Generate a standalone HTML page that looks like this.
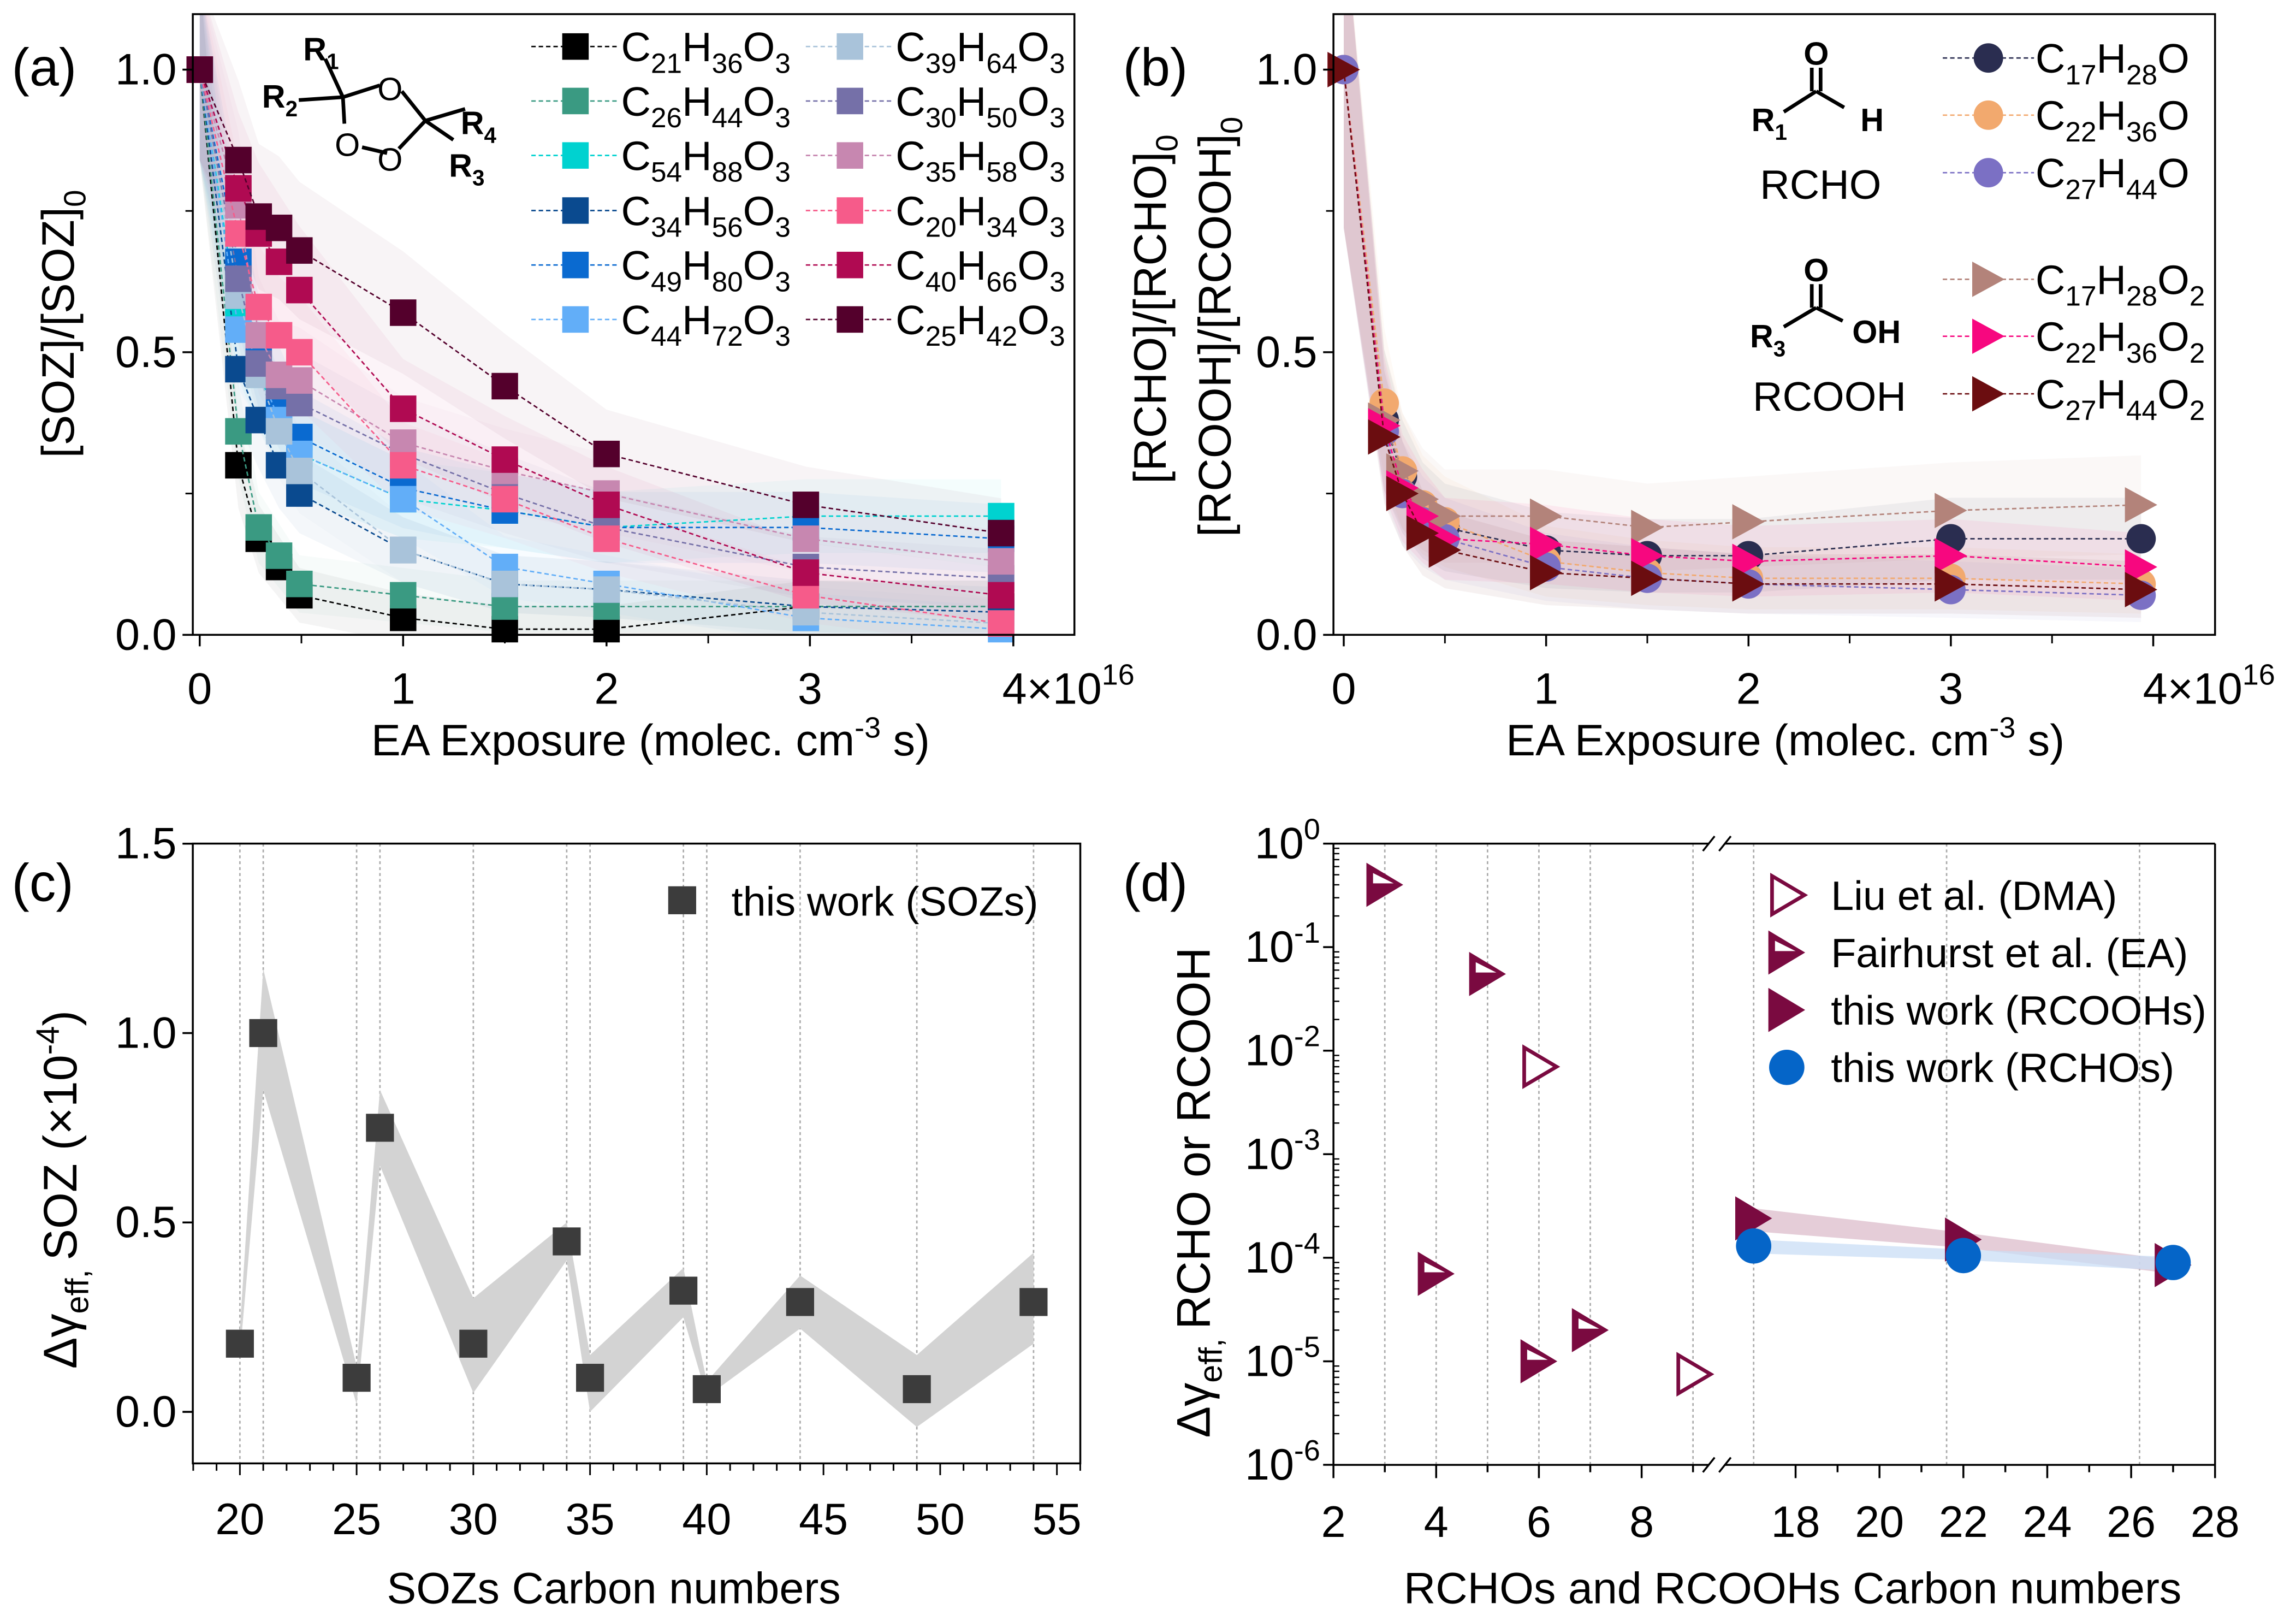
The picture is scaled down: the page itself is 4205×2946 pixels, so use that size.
<!DOCTYPE html>
<html><head><meta charset="utf-8"><style>
html,body{margin:0;padding:0;background:#fff;}
svg{display:block;}
text{font-family:"Liberation Sans Narrow","Liberation Sans",sans-serif;fill:#000;}
.reg{font-family:"Liberation Sans",sans-serif;}
</style></head><body>
<svg id="fig" xmlns="http://www.w3.org/2000/svg" width="4205" height="2946" viewBox="0 0 1560 1092.9" preserveAspectRatio="none">
<rect x="0" y="0" width="1560" height="1093" fill="#fff"/>
<defs>
<clipPath id="clipA"><rect x="131" y="10" width="599" height="421"/></clipPath>
<clipPath id="clipB"><rect x="906" y="10" width="599" height="421"/></clipPath>
<clipPath id="clipC"><rect x="131" y="573" width="603" height="421"/></clipPath>
</defs>
<g id="gA"></g>
<g id="gB"></g>
<g id="gC"></g>
<g id="gD"></g>
</svg>
<script>
// ---------- Panel (a) data ----------
const exposureA = [0,0.19,0.29,0.39,0.49,1,1.5,2,2.98,3.94];
const sozNames = ["C21H36O3","C26H44O3","C54H88O3","C34H56O3","C49H80O3","C44H72O3","C39H64O3","C30H50O3","C35H58O3","C20H34O3","C40H66O3","C25H42O3"];
const sozColors = ["#000000","#3a9a82","#00d2d0","#0a4a8f","#0a6ad0","#62aef8","#a9c3da","#7570a8","#c787b0","#f65b8a","#b00a52","#54002c"];
const sozC21 = [1,0.30,0.17,0.12,0.07,0.03,0.01,0.01,0.05,0.05];
const sozC26 = [1,0.36,0.19,0.14,0.09,0.07,0.05,0.05,0.05,0.05];
const sozC54 = [1,0.56,0.46,0.38,0.32,0.24,0.22,0.19,0.21,0.21];
const sozC34 = [1,0.47,0.38,0.30,0.25,0.15,0.09,0.08,0.05,0.04];
const sozC49 = [1,0.66,0.50,0.42,0.35,0.26,0.22,0.19,0.19,0.17];
const sozC44 = [1,0.54,0.47,0.38,0.32,0.24,0.12,0.09,0.03,0.01];
const sozC39 = [1,0.60,0.46,0.36,0.29,0.15,0.09,0.08,0.04,0.02];
const sozC30 = [1,0.63,0.48,0.44,0.41,0.32,0.25,0.19,0.12,0.10];
const sozC35 = [1,0.76,0.53,0.46,0.45,0.34,0.29,0.25,0.17,0.13];
const sozC20 = [1,0.71,0.58,0.53,0.50,0.30,0.24,0.17,0.07,0.02];
const sozC40 = [1,0.79,0.71,0.66,0.61,0.40,0.31,0.23,0.11,0.07];
const sozC25 = [1,0.84,0.74,0.72,0.68,0.57,0.44,0.32,0.23,0.18];
// ---------- Panel (b) data ----------
const exposureB = [0,0.2,0.29,0.39,0.5,1,1.5,2,3,3.94];
const rchoC17 = [1,0.38,0.28,0.22,0.19,0.15,0.14,0.14,0.17,0.17];
const rchoC22 = [1,0.41,0.29,0.23,0.20,0.13,0.11,0.10,0.10,0.09];
const rchoC27 = [1,0.36,0.25,0.20,0.17,0.12,0.10,0.09,0.08,0.07];
const rcoohC17 = [1,0.38,0.29,0.24,0.21,0.21,0.19,0.20,0.22,0.23];
const rcoohC22 = [1,0.37,0.26,0.21,0.17,0.16,0.14,0.13,0.14,0.12];
const rcoohC27 = [1,0.35,0.25,0.18,0.15,0.11,0.10,0.09,0.09,0.08];
// ---------- Panel (c) data ----------
const sozCarbon = [20,21,25,26,30,34,35,39,40,44,49,54];
const sozGamma = [0.18,1.0,0.09,0.75,0.18,0.45,0.09,0.32,0.06,0.29,0.06,0.29];
const sozUpper = [0.22,1.17,0.12,0.85,0.30,0.50,0.15,0.38,0.08,0.36,0.15,0.42];
const sozLower = [0.15,0.85,0.02,0.65,0.05,0.40,0.0,0.25,0.04,0.22,-0.04,0.18];
const cTicks = [20,25,30,35,40,45,50,55];
const cYTicks = ["0.0","0.5","1.0","1.5"];
// ---------- Panel (d) data ----------
const liuC = [6,9];
const liuG = [7e-3,7.5e-6];
const fairC = [3,5,4,6,7];
const fairG = [0.4,0.055,7e-5,1e-5,2e-5];
const coohC = [17,22,27];
const coohG = [2.4e-4,1.5e-4,8.5e-5];
const coohUp = [3e-4,1.75e-4,9.5e-5];
const coohLo = [1.8e-4,1.25e-4,7e-5];
const choC = [17,22,27];
const choG = [1.3e-4,1.05e-4,9e-5];
const choUp = [1.5e-4,1.2e-4,1.02e-4];
const choLo = [1.1e-4,0.95e-4,7.5e-5];
const dLeftTicks = [2,4,6,8];
const dRightTicks = [18,20,22,24,26,28];
const dExps = [0,-1,-2,-3,-4,-5,-6];

const NS="http://www.w3.org/2000/svg";
function mk(tag,attrs,parent){const e=document.createElementNS(NS,tag);for(const k in attrs)e.setAttribute(k,attrs[k]);parent.appendChild(e);return e;}
function txt(parent,x,y,s,size,anchor,cls){const t=mk('text',{x:x,y:y,'font-size':size,'text-anchor':anchor||'start'},parent);if(cls)t.setAttribute('class',cls);t.textContent=s;return t;}
function span(t,s,opt){const sp=document.createElementNS(NS,'tspan');for(const k in opt)sp.setAttribute(k,opt[k]);sp.textContent=s;t.appendChild(sp);return sp;}
function formula(parent,x,y,f,size){const t=mk('text',{x:x,y:y,'font-size':size},parent);const re=/([A-Z][a-z]?)(\d*)/g;let m;let down=false;
 while((m=re.exec(f))){span(t,m[1],{dy:down?-size*0.28:0});down=false;if(m[2]){span(t,m[2],{'font-size':size*0.68,dy:size*0.28});down=true;}}return t;}

const gA=document.getElementById('gA'),gB=document.getElementById('gB'),gC=document.getElementById('gC'),gD=document.getElementById('gD');
// ========== Panel A ==========
const xa=v=>135.7+v*138.2, ya=v=>431.2-v*383.9;
const sozSeries=[sozC21,sozC26,sozC54,sozC34,sozC49,sozC44,sozC39,sozC30,sozC35,sozC20,sozC40,sozC25];
const bandsA=mk('g',{'clip-path':'url(#clipA)'},gA);


sozSeries.forEach((s,i)=>{let up=[],lo=[];s.forEach((v,j)=>{const e=0.04+0.12*v;up.push(xa(exposureA[j])+','+ya(v+e));lo.unshift(xa(exposureA[j])+','+ya(v-e));});
 const p=mk('polygon',{points:up.concat(lo).join(' '),fill:sozColors[i],'fill-opacity':0.045},bandsA);
 
 });
sozSeries.forEach((s,i)=>{const g=mk('g',{},gA);
 
 
 mk('polyline',{points:s.map((v,j)=>xa(exposureA[j])+','+ya(v)).join(' '),fill:'none',stroke:sozColors[i],'stroke-width':1,'stroke-dasharray':'3,2'},g);
 s.forEach((v,j)=>{const r=mk('rect',{x:xa(exposureA[j])-9,y:ya(v)-9,width:18,height:18,fill:sozColors[i]},g);
  
  });});
// frame & axes
const frA=mk('rect',{x:131,y:9.6,width:599,height:421.6,fill:'none',stroke:'#000','stroke-width':1.3},gA);


[0,1,2,3,4].forEach(v=>{mk('line',{x1:xa(v),x2:xa(v),y1:431,y2:439,stroke:'#000','stroke-width':1.3},gA);
 const t=txt(gA,xa(v),478,v===4?'':String(v),30,'middle');
 
 });
[0.5,1.5,2.5,3.5].forEach(v=>mk('line',{x1:xa(v),x2:xa(v),y1:431,y2:437,stroke:'#000','stroke-width':1.1},gA));
{const t=mk('text',{x:681,y:478,'font-size':30},gA);span(t,'4×10',{});span(t,'16',{'font-size':20,dy:-13});
 
 }
[["0.0",0],["0.5",0.5],["1.0",1]].forEach(([s,v])=>{mk('line',{x1:124,x2:131,y1:ya(v),y2:ya(v),stroke:'#000','stroke-width':1.3},gA);
 const t=txt(gA,120,ya(v)+10,s,30,'end');
 
 });
[0.25,0.75].forEach(v=>mk('line',{x1:126,x2:131,y1:ya(v),y2:ya(v),stroke:'#000','stroke-width':1.1},gA));
{const t=mk('text',{x:442,y:513,'font-size':30,'text-anchor':'middle'},gA);span(t,'EA Exposure (molec. cm',{});span(t,'-3',{'font-size':20,dy:-12});span(t,' s)',{dy:12});
 
 }
{const t=mk('text',{x:0,y:0,'font-size':31,'text-anchor':'middle',class:'reg',transform:'translate(50,220) rotate(-90)'},gA);span(t,'[SOZ]/[SOZ]',{});span(t,'0',{'font-size':21,dy:8});
 
 }
{const t=txt(gA,8,58,'(a)',36,'start','reg');
 
 }
// structure a
{const g=mk('g',{stroke:'#000','stroke-width':2.5,fill:'none'},gA);
 
 
 [[221,40,233,66],[203,68,233,66],[233,66,258,58],[273,62,289,82],[289,82,316,74],[289,82,308,95],[289,82,271,101],[263,104,246,100],[233,66,234,84]].forEach(l=>mk('line',{x1:l[0],y1:l[1],x2:l[2],y2:l[3]},g));
 const s=mk('g',{},gA);
 txt(s,265,68,'O',22,'middle','reg');txt(s,265,116,'O',22,'middle','reg');txt(s,236,106,'O',22,'middle','reg');
 [[206,41,'R','1'],[178,73,'R','2'],[313,91,'R','4'],[305,120,'R','3']].forEach(a=>{const t=mk('text',{x:a[0],y:a[1],'font-size':22,'font-weight':'bold',class:'reg'},s);span(t,a[2],{});span(t,a[3],{'font-size':15,dy:6});});}
// legend a
const legRowsA=[31.6,68.6,105.6,143,180,217];
sozNames.forEach((n,i)=>{const col=i<6?0:1, row=i%6;const mx=col?577.5:391, y=legRowsA[row];
 const g=mk('g',{},gA);
 
 
 mk('line',{x1:mx-30,x2:mx+29,y1:y,y2:y,stroke:sozColors[i],'stroke-width':1,'stroke-dasharray':'3,2'},g);
 mk('rect',{x:mx-9,y:y-9,width:18,height:18,fill:sozColors[i]},g);
 formula(g,mx+31,y+10,n,28);});
// ========== Panel B ==========
const xb=v=>913+v*137.5, yb=v=>431.2-v*383.9;
const bNames=["C17H28O","C22H36O","C27H44O","C17H28O2","C22H36O2","C27H44O2"];
const bColors=["#2a2d50","#f2a96e","#7b70c4","#b3837a","#f7077f","#6b0d10"];
const bSeries=[rchoC17,rchoC22,rchoC27,rcoohC17,rcoohC22,rcoohC27];
const bandsB=mk('g',{'clip-path':'url(#clipB)'},gB);


bSeries.forEach((s,i)=>{let up=[],lo=[];s.forEach((v,j)=>{const e=0.03+0.25*v;up.push(xb(exposureB[j])+','+yb(v+e));lo.unshift(xb(exposureB[j])+','+yb(v-e));});
 const p=mk('polygon',{points:up.concat(lo).join(' '),fill:bColors[i],'fill-opacity':0.06},bandsB);
 
 });
function triR(g,x,y,w,h,fill){return mk('polygon',{points:(x-w/2)+','+(y-h/2)+' '+(x+w/2)+','+y+' '+(x-w/2)+','+(y+h/2),fill:fill},g);}
bSeries.forEach((s,i)=>{const g=mk('g',{},gB);
 
 
 mk('polyline',{points:s.map((v,j)=>xb(exposureB[j])+','+yb(v)).join(' '),fill:'none',stroke:bColors[i],'stroke-width':1,'stroke-dasharray':'3,2'},g);
 s.forEach((v,j)=>{let m;if(i<3)m=mk('circle',{cx:xb(exposureB[j]),cy:yb(v),r:10,fill:bColors[i]},g);else m=triR(g,xb(exposureB[j]),yb(v),22,24,bColors[i]);
  
  });});
const frB=mk('rect',{x:906,y:9.6,width:599,height:421.6,fill:'none',stroke:'#000','stroke-width':1.3},gB);


[0,1,2,3,4].forEach(v=>{mk('line',{x1:xb(v),x2:xb(v),y1:431,y2:439,stroke:'#000','stroke-width':1.3},gB);
 const t=txt(gB,xb(v),478,v===4?'':String(v),30,'middle');
 
 });
[0.5,1.5,2.5,3.5].forEach(v=>mk('line',{x1:xb(v),x2:xb(v),y1:431,y2:437,stroke:'#000','stroke-width':1.1},gB));
{const t=mk('text',{x:1456,y:478,'font-size':30},gB);span(t,'4×10',{});span(t,'16',{'font-size':20,dy:-13});
 
 }
[["0.0",0],["0.5",0.5],["1.0",1]].forEach(([s,v])=>{mk('line',{x1:899,x2:906,y1:yb(v),y2:yb(v),stroke:'#000','stroke-width':1.3},gB);
 const t=txt(gB,895,yb(v)+10,s,30,'end');
 
 });
[0.25,0.75].forEach(v=>mk('line',{x1:901,x2:906,y1:yb(v),y2:yb(v),stroke:'#000','stroke-width':1.1},gB));
{const t=mk('text',{x:1213,y:513,'font-size':30,'text-anchor':'middle'},gB);span(t,'EA Exposure (molec. cm',{});span(t,'-3',{'font-size':20,dy:-12});span(t,' s)',{dy:12});
 
 }
{const t=mk('text',{x:0,y:0,'font-size':31,'text-anchor':'middle',class:'reg',transform:'translate(792,210) rotate(-90)'},gB);span(t,'[RCHO]/[RCHO]',{});span(t,'0',{'font-size':21,dy:8});
 
 
 const t2=mk('text',{x:0,y:0,'font-size':31,'text-anchor':'middle',class:'reg',transform:'translate(836,222) rotate(-90)'},gB);span(t2,'[RCOOH]/[RCOOH]',{});span(t2,'0',{'font-size':21,dy:8});
 
 }
{const t=txt(gB,763,58,'(b)',36,'start','reg');
 
 }
// structures b
{const g=mk('g',{stroke:'#000','stroke-width':2.5,fill:'none'},gB);
 
 
 [[1231,46,1231,62],[1237,46,1237,62],[1234,62,1212,76],[1234,62,1253,73],[1231,193,1231,209],[1237,193,1237,209],[1234,209,1212,222],[1234,209,1252,218]].forEach(l=>mk('line',{x1:l[0],y1:l[1],x2:l[2],y2:l[3]},g));
 const s=mk('g',{},gB);
 const w='bold';
 const o1=txt(s,1234,44,'O',22,'middle','reg');o1.setAttribute('font-weight',w);
 const h1=txt(s,1272,89,'H',22,'middle','reg');h1.setAttribute('font-weight',w);
 const o2=txt(s,1234,191,'O',22,'middle','reg');o2.setAttribute('font-weight',w);
 const oh=txt(s,1275,233,'OH',22,'middle','reg');oh.setAttribute('font-weight',w);
 [[1190,89,'R','1'],[1189,236,'R','3']].forEach(a=>{const t=mk('text',{x:a[0],y:a[1],'font-size':22,'font-weight':'bold',class:'reg'},s);span(t,a[2],{});span(t,a[3],{'font-size':15,dy:6});});
 txt(s,1237,135,'RCHO',28,'middle','reg');txt(s,1243,279,'RCOOH',28,'middle','reg');}
const legRowsB=[39.4,78.2,117.3,189.7,228.4,267.5];
bNames.forEach((n,i)=>{const mx=1351,y=legRowsB[i];const g=mk('g',{},gB);
 
 
 mk('line',{x1:1320,x2:1382,y1:y,y2:y,stroke:bColors[i],'stroke-width':1,'stroke-dasharray':'3,2'},g);
 if(i<3)mk('circle',{cx:mx,cy:y,r:10,fill:bColors[i]},g);else triR(g,mx,y,22,24,bColors[i]);
 formula(g,1383,y+10,n,28);});
// ========== Panel C ==========
const xc=v=>163+(v-20)*15.86, yc=v=>959-v*257.3;
sozCarbon.forEach(c=>{const l=mk('line',{x1:xc(c),x2:xc(c),y1:573,y2:994,stroke:'#aaa','stroke-width':1,'stroke-dasharray':'2,2'},gC);
 
 });
{const pts=sozCarbon.map((c,i)=>xc(c)+','+yc(sozUpper[i])).concat(sozCarbon.map((c,i)=>xc(c)+','+yc(sozLower[i])).reverse());
 const p=mk('polygon',{points:pts.join(' '),fill:'#d3d3d3','clip-path':'url(#clipC)'},gC);
 
 }
sozCarbon.forEach((c,i)=>{const r=mk('rect',{x:xc(c)-9.5,y:yc(sozGamma[i])-9.5,width:19,height:19,fill:'#3c3c3c'},gC);
 
 });
const frC=mk('rect',{x:131,y:573,width:603,height:421,fill:'none',stroke:'#000','stroke-width':1.3},gC);


for(let v=18;v<=56;v++){const maj=v%5===0;mk('line',{x1:xc(v),x2:xc(v),y1:994,y2:994+(maj?8:5),stroke:'#000','stroke-width':1.1},gC);}
cTicks.forEach(v=>{const t=txt(gC,xc(v),1042,String(v),30,'middle');
 
 });
cYTicks.forEach(s=>{const v=parseFloat(s);mk('line',{x1:124,x2:131,y1:yc(v),y2:yc(v),stroke:'#000','stroke-width':1.3},gC);
 const t=txt(gC,120,yc(v)+10,s,30,'end');
 
 });
{const t=txt(gC,417,1089,'SOZs Carbon numbers',30,'middle');
 
 }
{const t=mk('text',{x:0,y:0,'font-size':32,'text-anchor':'middle',class:'reg',transform:'translate(52,808) rotate(-90)'},gC);span(t,'Δγ',{});span(t,'eff, ',{'font-size':22,dy:8});span(t,'SOZ  (×10',{dy:-8});span(t,'-4',{'font-size':22,dy:-12});span(t,')',{dy:12});
 
 }
{const g=mk('g',{},gC);
 
 
 mk('rect',{x:454,y:602,width:19,height:19,fill:'#3c3c3c'},g);txt(g,497,622,'this work (SOZs)',28,'start');}
{const t=txt(gC,8,612,'(c)',36,'start','reg');
 
 }
// ========== Panel D ==========
const xd=v=>v<=9.6?906+(v-2)*34.9:1220+(v-18)*28.5;
const yd=v=>573-Math.log10(v)*70.33;
[3,4,5,6,7,9,17,21.6,26.2].forEach(c=>{const l=mk('line',{x1:xd(c),x2:xd(c),y1:573,y2:995,stroke:'#aaa','stroke-width':1,'stroke-dasharray':'2,2'},gD);
 
 });
function bandD(xs,up,lo,color,name){const pts=xs.map((c,i)=>xd(c)+','+yd(up[i])).concat(xs.map((c,i)=>xd(c)+','+yd(lo[i])).reverse());
 const p=mk('polygon',{points:pts.join(' '),fill:color,'fill-opacity':0.75},gD);
 
 }
bandD(coohC,coohUp,coohLo,'#dcbccb','band-rcooh');
bandD(choC,choUp,choLo,'#c9def5','band-rcho');
const mar='#7a0a40';
function triD(x,y,kind){const g=mk('g',{},gD);
 if(kind==='open'){mk('polygon',{points:(x-10)+','+(y-13)+' '+(x+12)+','+y+' '+(x-10)+','+(y+13),fill:'#fff',stroke:mar,'stroke-width':2.5},g);}
 else{triR(g,x,y,25,30,mar);if(kind==='half')mk('polygon',{points:(x-8)+','+(y-8)+' '+(x+6)+','+(y-1)+' '+(x-8)+','+(y-1),fill:'#fff'},g);}
 return g;}
liuC.forEach((c,i)=>{const g=triD(xd(c),yd(liuG[i]),'open');
 
 });
fairC.forEach((c,i)=>{const g=triD(xd(c),yd(fairG[i]),'half');
 
 });
coohC.forEach((c,i)=>{const g=triD(xd(c),yd(coohG[i]),'full');
 
 });
choC.forEach((c,i)=>{const e=mk('circle',{cx:xd(c),cy:yd(choG[i]),r:12,fill:'#0565c8'},gD);
 
 });
// axes d with break
{const g=mk('g',{stroke:'#000','stroke-width':1.3,fill:'none'},gD);
 
 
 mk('line',{x1:906,y1:573,x2:906,y2:995},g);mk('line',{x1:1505,y1:573,x2:1505,y2:995},g);
 [573,995].forEach(y=>{mk('line',{x1:906,y1:y,x2:1161,y2:y},g);mk('line',{x1:1172,y1:y,x2:1505,y2:y},g);
  mk('line',{x1:1157,y1:y+5,x2:1165,y2:y-5},g);mk('line',{x1:1168,y1:y+5,x2:1176,y2:y-5},g);});
 dLeftTicks.forEach(v=>mk('line',{x1:xd(v),x2:xd(v),y1:995,y2:1004},g));
 [3,5,7,9].forEach(v=>mk('line',{x1:xd(v),x2:xd(v),y1:995,y2:1000},g));
 dRightTicks.forEach(v=>mk('line',{x1:xd(v),x2:xd(v),y1:995,y2:1004},g));
 [19,21,23,25,27].forEach(v=>mk('line',{x1:xd(v),x2:xd(v),y1:995,y2:1000},g));
 dExps.forEach(e=>{const y=yd(Math.pow(10,e));mk('line',{x1:899,x2:906,y1:y,y2:y},g);
  if(e>-6)for(let k=2;k<=9;k++){const yy=yd(k*Math.pow(10,e-1));mk('line',{x1:906,x2:910,y1:yy,y2:yy,'stroke-width':0.9},g);}});}
dLeftTicks.concat(dRightTicks).forEach(v=>{const t=txt(gD,xd(v),1044,String(v),30,'middle');
 
 });
dExps.forEach(e=>{const t=mk('text',{x:897,y:yd(Math.pow(10,e))+10,'font-size':30,'text-anchor':'end'},gD);span(t,'10',{});span(t,String(e),{'font-size':20,dy:-13});
 
 });
{const t=txt(gD,1218,1089,'RCHOs and RCOOHs Carbon numbers',30,'middle');
 
 }
{const t=mk('text',{x:0,y:0,'font-size':32,'text-anchor':'middle',class:'reg',transform:'translate(822,810) rotate(-90)'},gD);span(t,'Δγ',{});span(t,'eff, ',{'font-size':22,dy:8});span(t,'RCHO or RCOOH',{dy:-8});
 
 }
{const t=txt(gD,763,612,'(d)',36,'start','reg');
 
 }
[["Liu et al. (DMA)",608,'open'],["Fairhurst et al. (EA)",647,'half'],["this work (RCOOHs)",686,'full'],["this work (RCHOs)",725,'circle']].forEach(a=>{
 let g;if(a[2]==='circle'){g=mk('g',{},gD);mk('circle',{cx:1214,cy:a[1],r:12,fill:'#0565c8'},g);}else g=triD(1214,a[1],a[2]);
 
 
 txt(g,1244,a[1]+10,a[0],28,'start');});
</script>
</body></html>
